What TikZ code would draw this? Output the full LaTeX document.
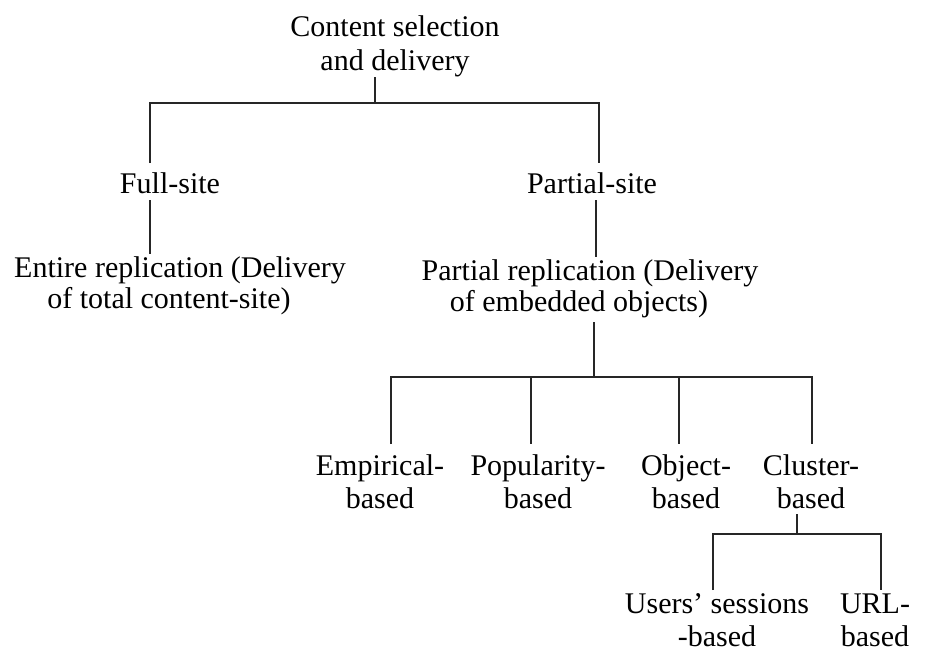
\documentclass[tikz,border=0pt]{standalone}
\usepackage{fontspec}
\setmainfont{Liberation Serif}
\begin{document}
\begin{tikzpicture}[x=1pt,y=-1pt,
  lbl/.style={align=center,inner sep=0pt,font=\fontsize{30}{33}\selectfont},
  link/.style={draw=black!85,line width=1.3pt}]
\useasboundingbox (0,0) rectangle (925,651);
% labels
\node[lbl,font=\fontsize{30}{34}\selectfont] (root) at (395,46) {Content selection\\and delivery};
\node[lbl] (full) at (170,183) {Full-site};
\node[lbl] (part) at (592,183) {Partial-site};
\node[lbl,font=\fontsize{30}{31}\selectfont] (entire) at (180,286) {Entire replication (Delivery\\of total content-site)\hspace*{22pt}};
\node[lbl,font=\fontsize{30}{31}\selectfont] (prep) at (590,289) {Partial replication (Delivery\\of embedded objects)\hspace*{22pt}};
\node[lbl] (emp) at (380,482) {Empirical-\\based};
\node[lbl] (pop) at (538,482) {Popularity-\\based};
\node[lbl] (obj) at (686,482) {Object-\\based};
\node[lbl] (clu) at (811,482) {Cluster-\\based};
\node[lbl] (usr) at (717,620) {Users' sessions\\-based};
\node[lbl] (url) at (875,620) {URL-\\based};
% junction points
\coordinate (r0) at (375,77);
\coordinate (r1) at (375,103);
\coordinate (fa) at (150,103);
\coordinate (fb) at (150,163);
\coordinate (pa) at (599,103);
\coordinate (pb) at (599,163);
\coordinate (f0) at (150,200);
\coordinate (f1) at (150,254);
\coordinate (p0) at (596,200);
\coordinate (p1) at (596,257);
\coordinate (q0) at (594,322);
\coordinate (q1) at (594,377);
\coordinate (ea) at (391,377);
\coordinate (eb) at (391,444);
\coordinate (oa) at (531,377);
\coordinate (ob) at (531,444);
\coordinate (ja) at (679,377);
\coordinate (jb) at (679,444);
\coordinate (ca) at (812,377);
\coordinate (cb) at (812,444);
\coordinate (c0) at (797,514);
\coordinate (c1) at (797,534);
\coordinate (ua) at (713,534);
\coordinate (ub) at (713,590);
\coordinate (va) at (881,534);
\coordinate (vb) at (881,590);
% connectors
\draw[link] (r0) -- (r1);
\draw[link] (fb) -- (fa) -- (pa) -- (pb);
\draw[link] (f0) -- (f1);
\draw[link] (p0) -- (p1);
\draw[link] (q0) -- (q1);
\draw[link] (eb) -- (ea) -- (ca) -- (cb);
\draw[link] (oa) -- (ob);
\draw[link] (ja) -- (jb);
\draw[link] (c0) -- (c1);
\draw[link] (ub) -- (ua) -- (va) -- (vb);
\end{tikzpicture}
\end{document}
